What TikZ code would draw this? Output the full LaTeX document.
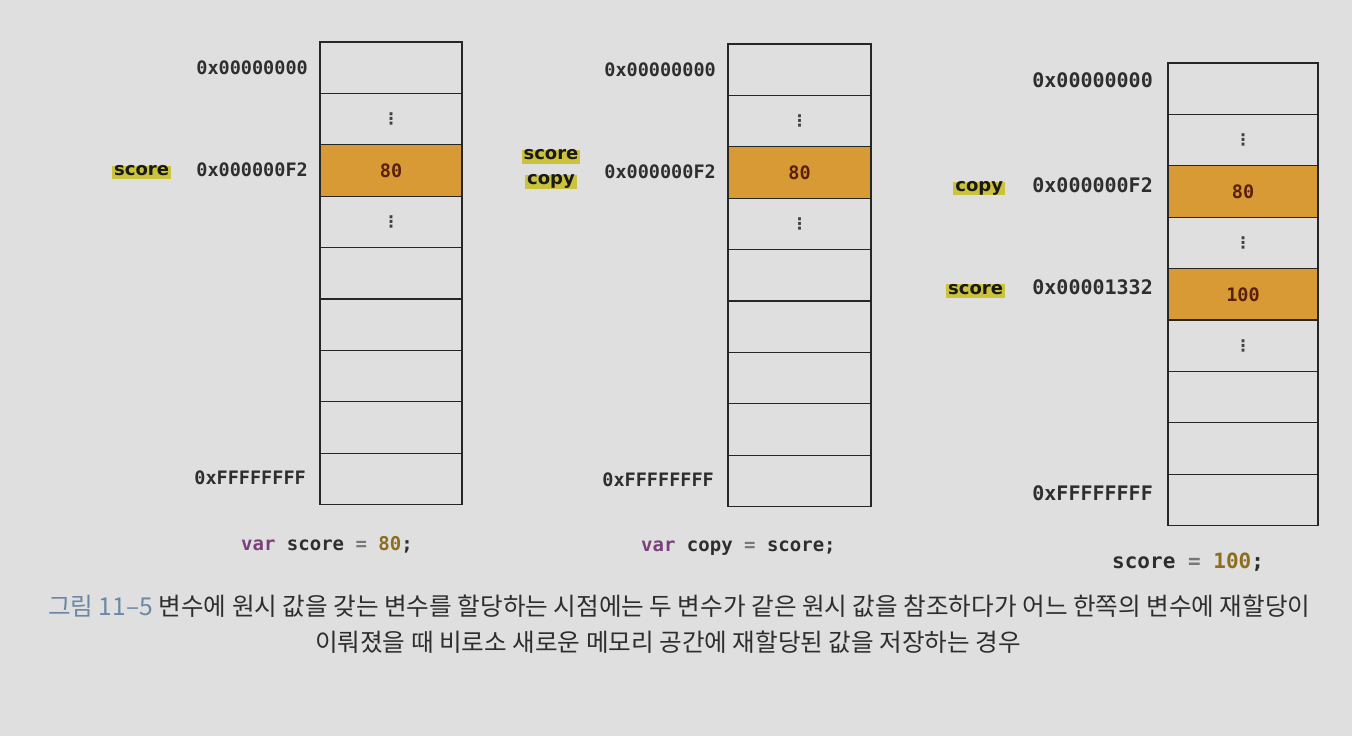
\documentclass[tikz,border=0pt]{standalone}
\usepackage{fontspec}
\newfontfamily\monof{DejaVu Sans Mono}
\newfontfamily\labf{DejaVu Sans}
\newfontfamily\kr{Noto Sans CJK KR}
\definecolor{bg}{HTML}{DEDFDE}
\definecolor{orng}{HTML}{D89A34}
\definecolor{hl}{HTML}{CBC33C}
\definecolor{valc}{HTML}{5A200C}
\definecolor{kw}{HTML}{7B3F7B}
\definecolor{num}{HTML}{8C6E1E}
\definecolor{opc}{HTML}{777777}
\definecolor{txt}{HTML}{2E2E2E}
\definecolor{capblue}{HTML}{6A88A6}
\begin{document}
\begin{tikzpicture}[x=1pt,y=-1pt,
  cell/.style={draw=black!85, line width=1.3pt, minimum height=51.4pt, inner sep=0pt, outer sep=0pt},
  c1r3/.style={fill=orng}, c2r3/.style={fill=orng}, c3r3/.style={fill=orng}, c3r5/.style={fill=orng},
  addr/.style={font=\monof\bfseries\fontsize{18.5}{20}\selectfont, text=txt, anchor=east, inner sep=0pt, text height=0.73em, text depth=0pt},
  addrb/.style={addr, font=\monof\bfseries\fontsize{20}{22}\selectfont},
  valtxt/.style={font=\monof\bfseries\fontsize{18.5}{20}\selectfont, text=valc, inner sep=0pt},
  vdots/.style={font=\labf\bfseries\fontsize{16}{18}\selectfont, text=black!75, inner sep=0pt},
  varlab/.style={font=\labf\bfseries\fontsize{18}{20}\selectfont, text=black!90, fill=hl, inner xsep=2pt, inner ysep=2pt, text height=0.76em, text depth=0.22em, anchor=east},
  code/.style={font=\monof\bfseries\fontsize{19}{20}\selectfont, text=txt, anchor=west, inner sep=0pt},
  captxt/.style={font=\kr\fontsize{24.6}{26}\selectfont, text=txt, inner sep=0pt}
]
\fill[bg] (0,0) rectangle (1352,736);
\useasboundingbox (0,0) rectangle (1352,736);

% memory columns
\foreach \c/\x/\t/\w in {1/320/42/142, 2/728/44/143, 3/1168/63/150}{
  \foreach \r in {1,...,9}{
    \node[cell, minimum width=\w pt, c\c r\r/.try] (c\c-\r) at ({\x+\w/2},{\t+(\r-0.5)*51.4}) {};
  }
}

% values
\node[valtxt] (v1) at (c1-3) {80};
\node[valtxt] (v2) at (c2-3) {80};
\node[valtxt] (v3) at (c3-3) {80};
\node[valtxt] (v4) at (c3-5) {100};

% vertical dots
\node[vdots] (d1a) at (c1-2) {⋮};
\node[vdots] (d1b) at (c1-4) {⋮};
\node[vdots] (d2a) at (c2-2) {⋮};
\node[vdots] (d2b) at (c2-4) {⋮};
\node[vdots] (d3a) at (c3-2) {⋮};
\node[vdots] (d3b) at (c3-4) {⋮};
\node[vdots] (d3c) at (c3-6) {⋮};

% addresses
\node[addr] (a1-1) at ([xshift=-12pt,yshift=-3pt]c1-1.west) {0x00000000};
\node[addr] (a1-3) at ([xshift=-12pt,yshift=-2pt]c1-3.west) {0x000000F2};
\node[addr] (a1-9) at ([xshift=-14pt,yshift=-2pt]c1-9.west) {0xFFFFFFFF};
\node[addr] (a2-1) at ([xshift=-12pt,yshift=-3pt]c2-1.west) {0x00000000};
\node[addr] (a2-3) at ([xshift=-12pt,yshift=-2pt]c2-3.west) {0x000000F2};
\node[addr] (a2-9) at ([xshift=-14pt,yshift=-2pt]c2-9.west) {0xFFFFFFFF};
\node[addrb] (a3-1) at ([xshift=-15pt,yshift=5pt]c3-1.west) {0x00000000};
\node[addrb] (a3-3) at ([xshift=-15pt,yshift=3pt]c3-3.west) {0x000000F2};
\node[addrb] (a3-5) at ([xshift=-15pt,yshift=3pt]c3-5.west) {0x00001332};
\node[addrb] (a3-9) at ([xshift=-15pt,yshift=3pt]c3-9.west) {0xFFFFFFFF};

% variable labels
\node[varlab] (s1) at ([xshift=-25pt]a1-3.west) {score};
\node[varlab, anchor=center] (s2) at (551,157) {score};
\node[varlab, anchor=center] (k2) at (551,182) {copy};
\node[varlab] (k3) at ([xshift=-27pt]a3-3.west) {copy};
\node[varlab] (s3) at ([xshift=-27pt]a3-5.west) {score};

% code lines
\node[code] (code1) at (241,545) {\textcolor{kw}{var} score \textcolor{opc}{=} \textcolor{num}{80};};
\node[code] (code2) at (641,548) {\textcolor{kw}{var} copy \textcolor{opc}{=} score;};
\node[code, font=\monof\bfseries\fontsize{21}{22}\selectfont] (code3) at (1112,562) {score \textcolor{opc}{=} \textcolor{num}{100};};

% caption
\node[captxt, anchor=west] (cap1) at (48,606) {\textcolor{capblue}{그림 11–5} 변수에 원시 값을 갖는 변수를 할당하는 시점에는 두 변수가 같은 원시 값을 참조하다가 어느 한쪽의 변수에 재할당이};
\node[captxt] (cap2) at (668,642) {이뤄졌을 때 비로소 새로운 메모리 공간에 재할당된 값을 저장하는 경우};
\end{tikzpicture}
\end{document}
